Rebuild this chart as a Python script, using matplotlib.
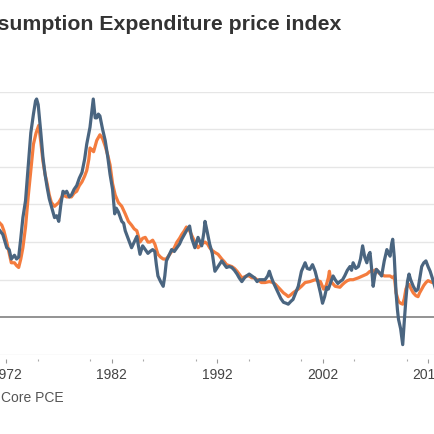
import matplotlib

matplotlib.use("Agg")

import matplotlib.pyplot as plt
from matplotlib.ticker import MultipleLocator

plt.rcParams["font.family"] = ["Liberation Sans", "DejaVu Sans"]

# headline PCE, year-over-year %
pce_years = [
    1971.43, 1971.7, 1972.07, 1972.3, 1972.5, 1972.8, 1973.0, 1973.2, 1973.4, 1973.6,
    1973.85, 1974.1, 1974.35, 1974.6, 1974.8, 1974.9, 1975.05, 1975.3, 1975.5, 1975.7,
    1975.9, 1976.1, 1976.3, 1976.6, 1976.8, 1977.0, 1977.2, 1977.4, 1977.6, 1977.75,
    1978.0, 1978.2, 1978.45, 1978.7, 1978.95, 1979.2, 1979.45, 1979.65, 1979.96, 1980.15,
    1980.27, 1980.45, 1980.6, 1980.75, 1980.9, 1981.15, 1981.4, 1981.65, 1981.86, 1982.1,
    1982.3, 1982.45, 1982.65, 1982.97, 1983.15, 1983.3, 1983.6, 1983.9, 1984.15, 1984.4,
    1984.55, 1984.7, 1984.95, 1985.2, 1985.45, 1985.65, 1985.9, 1986.1, 1986.25, 1986.4,
    1986.65, 1986.9, 1987.05, 1987.2, 1987.45, 1987.7, 1987.95, 1988.2, 1988.45, 1988.65,
    1988.9, 1989.1, 1989.4, 1989.6, 1989.9, 1990.2, 1990.55, 1990.75, 1990.86, 1991.05,
    1991.3, 1991.55, 1991.8, 1992.1, 1992.45, 1992.7, 1992.9, 1993.15, 1993.4, 1993.65,
    1993.9, 1994.1, 1994.35, 1994.6, 1994.8, 1995.05, 1995.3, 1995.55, 1995.8, 1996.0,
    1996.2, 1996.55, 1996.8, 1996.96, 1997.1, 1997.3, 1997.55, 1997.8, 1998.05, 1998.3,
    1998.55, 1998.75, 1999.0, 1999.2, 1999.45, 1999.7, 2000.0, 2000.2, 2000.35, 2000.55,
    2000.8, 2001.05, 2001.3, 2001.55, 2001.8, 2002.0, 2002.2, 2002.4, 2002.55, 2002.8,
    2003.0, 2003.2, 2003.45, 2003.65, 2003.9, 2004.1, 2004.35, 2004.6, 2004.75, 2004.9,
    2005.15, 2005.4, 2005.6, 2005.8, 2006.0, 2006.2, 2006.35, 2006.5, 2006.65, 2006.8,
    2006.95, 2007.1, 2007.35, 2007.6, 2007.85, 2008.1, 2008.25, 2008.4, 2008.55, 2008.65,
    2008.8, 2008.97, 2009.1, 2009.2, 2009.4, 2009.6, 2009.75, 2009.9, 2010.05, 2010.2,
    2010.35, 2010.6, 2010.85, 2011.05, 2011.2, 2011.4, 2011.6, 2011.8, 2012.0, 2012.2,
    2012.4, 2012.66,
]
pce_values = [
    4.6, 4.4, 3.7, 3.6, 3.1, 3.3, 3.1, 3.2, 4.2, 5.3,
    6.2, 8.0, 9.8, 10.8, 11.5, 11.6, 11.3, 9.8, 8.5, 7.6,
    6.9, 6.3, 5.9, 5.3, 5.4, 5.1, 6.0, 6.7, 6.6, 6.7,
    6.4, 6.5, 6.8, 7.0, 7.4, 7.7, 8.4, 9.2, 10.1, 11.0,
    11.6, 10.6, 10.6, 10.8, 10.7, 10.0, 9.4, 8.5, 7.6, 6.8,
    5.5, 5.8, 5.6, 5.1, 5.0, 4.6, 4.15, 3.7, 4.0, 4.3,
    3.8, 3.35, 3.8, 3.6, 3.4, 3.5, 3.6, 3.5, 2.8, 2.2,
    1.9, 1.65, 2.2, 3.0, 3.3, 3.6, 3.5, 3.7, 3.9, 4.15,
    4.4, 4.6, 4.85, 4.2, 3.7, 4.25, 3.8, 4.5, 5.1, 4.6,
    3.9, 3.4, 2.45, 2.7, 3.0, 2.8, 2.65, 2.7, 2.65, 2.5,
    2.3, 2.1, 1.9, 2.1, 2.2, 2.3, 2.2, 2.1, 1.9, 2.0,
    2.0, 2.0, 2.2, 2.45, 2.2, 1.9, 1.6, 1.3, 1.0, 0.8,
    0.75, 0.7, 0.85, 0.95, 1.3, 1.65, 2.45, 2.7, 2.9, 2.6,
    2.55, 2.8, 2.45, 1.9, 1.3, 0.75, 1.1, 1.6, 1.5, 1.9,
    2.2, 2.0, 1.8, 1.9, 2.0, 2.2, 2.5, 2.7, 2.5, 2.9,
    2.6, 2.7, 3.1, 3.8, 3.2, 2.9, 3.3, 3.45, 2.6, 1.65,
    2.2, 2.55, 2.4, 2.2, 3.0, 3.6, 3.4, 3.25, 3.9, 4.15,
    3.2, 1.3, 0.4, -0.1, -0.6, -1.45, -0.2, 0.95, 1.9, 2.3,
    2.0, 1.65, 1.4, 1.5, 2.0, 2.7, 2.9, 3.0, 2.7, 2.45,
    2.1, 1.6,
]

# core PCE (ex food and energy), year-over-year %
core_years = [
    1971.43, 1971.6, 1971.8, 1972.07, 1972.3, 1972.5, 1972.8, 1973.0, 1973.2, 1973.4,
    1973.6, 1973.85, 1974.1, 1974.35, 1974.6, 1974.85, 1975.1, 1975.3, 1975.5, 1975.7,
    1975.9, 1976.1, 1976.3, 1976.6, 1976.8, 1977.0, 1977.2, 1977.4, 1977.75, 1978.0,
    1978.2, 1978.45, 1978.7, 1978.95, 1979.2, 1979.45, 1979.65, 1979.85, 1979.96, 1980.15,
    1980.3, 1980.6, 1980.9, 1981.15, 1981.4, 1981.65, 1981.86, 1982.1, 1982.35, 1982.65,
    1982.97, 1983.3, 1983.6, 1983.9, 1984.15, 1984.4, 1984.7, 1984.95, 1985.2, 1985.45,
    1985.65, 1985.9, 1986.1, 1986.4, 1986.65, 1986.9, 1987.2, 1987.45, 1987.7, 1987.95,
    1988.2, 1988.45, 1988.65, 1988.9, 1989.1, 1989.4, 1989.65, 1989.9, 1990.2, 1990.55,
    1990.86, 1991.1, 1991.3, 1991.55, 1991.8, 1992.1, 1992.45, 1992.7, 1992.9, 1993.15,
    1993.4, 1993.65, 1993.9, 1994.1, 1994.35, 1994.6, 1994.8, 1995.05, 1995.3, 1995.55,
    1995.8, 1996.0, 1996.2, 1996.55, 1996.96, 1997.3, 1997.55, 1997.8, 1998.05, 1998.3,
    1998.55, 1998.75, 1999.0, 1999.2, 1999.45, 1999.7, 2000.0, 2000.35, 2000.8, 2001.05,
    2001.3, 2001.55, 2001.8, 2002.1, 2002.35, 2002.55, 2002.65, 2002.8, 2003.2, 2003.65,
    2003.9, 2004.1, 2004.35, 2004.6, 2004.9, 2005.4, 2005.8, 2006.2, 2006.5, 2006.8,
    2007.1, 2007.35, 2007.6, 2007.85, 2008.1, 2008.4, 2008.65, 2008.8, 2008.97, 2009.2,
    2009.4, 2009.6, 2009.75, 2009.9, 2010.05, 2010.2, 2010.4, 2010.6, 2010.85, 2011.05,
    2011.2, 2011.4, 2011.6, 2011.8, 2012.0, 2012.2, 2012.4, 2012.66,
]
core_values = [
    5.0, 4.9, 4.6, 4.0, 3.4, 2.9, 2.9, 2.75, 2.65, 3.1,
    3.7, 4.8, 6.4, 7.8, 9.2, 9.8, 10.2, 9.3, 8.3, 7.6,
    7.1, 6.5, 6.1, 5.9, 6.0, 6.1, 6.3, 6.5, 6.4, 6.4,
    6.4, 6.6, 6.7, 7.0, 7.2, 7.5, 7.8, 8.4, 9.0, 8.9,
    8.8, 9.4, 9.7, 9.5, 9.1, 8.6, 8.1, 7.1, 6.5, 6.1,
    5.9, 5.5, 5.1, 4.9, 4.7, 4.6, 4.0, 4.2, 4.25, 4.0,
    4.0, 4.1, 3.9, 3.35, 3.2, 3.1, 3.1, 3.3, 3.5, 3.7,
    4.0, 4.2, 4.4, 4.6, 4.8, 4.6, 4.3, 4.0, 3.7, 3.9,
    4.0, 3.9, 3.7, 3.55, 3.45, 3.35, 3.1, 2.95, 2.8, 2.75,
    2.7, 2.6, 2.45, 2.3, 2.1, 2.15, 2.2, 2.2, 2.1, 2.1,
    2.0, 1.95, 1.85, 1.85, 1.9, 1.85, 1.75, 1.6, 1.45, 1.3,
    1.2, 1.1, 1.2, 1.3, 1.4, 1.5, 1.65, 1.85, 1.9, 1.95,
    2.0, 1.95, 1.9, 1.5, 1.7, 2.1, 2.45, 1.9, 1.65, 1.6,
    1.75, 1.85, 1.95, 2.0, 2.0, 2.1, 2.2, 2.3, 2.45, 2.45,
    2.55, 2.35, 2.3, 2.2, 2.2, 2.2, 2.1, 2.2, 1.3, 0.85,
    0.75, 0.7, 1.0, 1.5, 1.7, 1.75, 1.5, 1.3, 1.15, 1.1,
    1.3, 1.5, 1.7, 1.85, 1.95, 1.9, 1.85, 1.85,
]

x_ticks = [1972, 1982, 1992, 2002, 2012]
y_grid = [-2, 2, 4, 6, 8, 10, 12]

W = H = 435
fig = plt.figure(figsize=(W / 100, H / 100), dpi=100, facecolor="white")
ax = fig.add_axes([0, (H - 356) / H, 1, (356 - 92.5) / H])
ax.set_facecolor("white")

for y in y_grid:
    ax.axhline(y, color="#e6e6e6", linewidth=1.0, zorder=1)
ax.axhline(0, color="#8a8a8a", linewidth=1.3, zorder=2)

ax.plot(core_years, core_values, color="#f47c3e", linewidth=2.3, zorder=3,
        solid_joinstyle="round")
ax.plot(pce_years, pce_values, color="#4a6580", linewidth=2.3, zorder=4,
        solid_joinstyle="round")

ax.set_xlim(1971.43, 2012.66)
ax.set_ylim(-2, 12)
ax.set_yticks([])
ax.set_xticks(x_ticks)
ax.set_xticklabels([str(t) for t in x_ticks])
ax.xaxis.set_minor_locator(MultipleLocator(5))
ax.tick_params(axis="x", which="major", length=2.6, width=0.8, color="#999999",
               pad=3.0, labelsize=10, labelcolor="#444444")
ax.tick_params(axis="x", which="minor", length=1.3, width=0.8, color="#aaaaaa")

for side in ["top", "right", "left"]:
    ax.spines[side].set_visible(False)
ax.spines["bottom"].set_position(("outward", 3))
ax.spines["bottom"].set_visible(False)

fig.text(341 / W, 1 - 25 / H, "Personal Consumption Expenditure price index",
         ha="right", va="center", fontsize=15.3, fontweight="bold", color="#333333")
fig.text(1 / W, 1 - 398 / H, "Core PCE", ha="left", va="center",
         fontsize=10, color="#555555")

fig.savefig("out.png", dpi=100, facecolor="white")
plt.close(fig)
